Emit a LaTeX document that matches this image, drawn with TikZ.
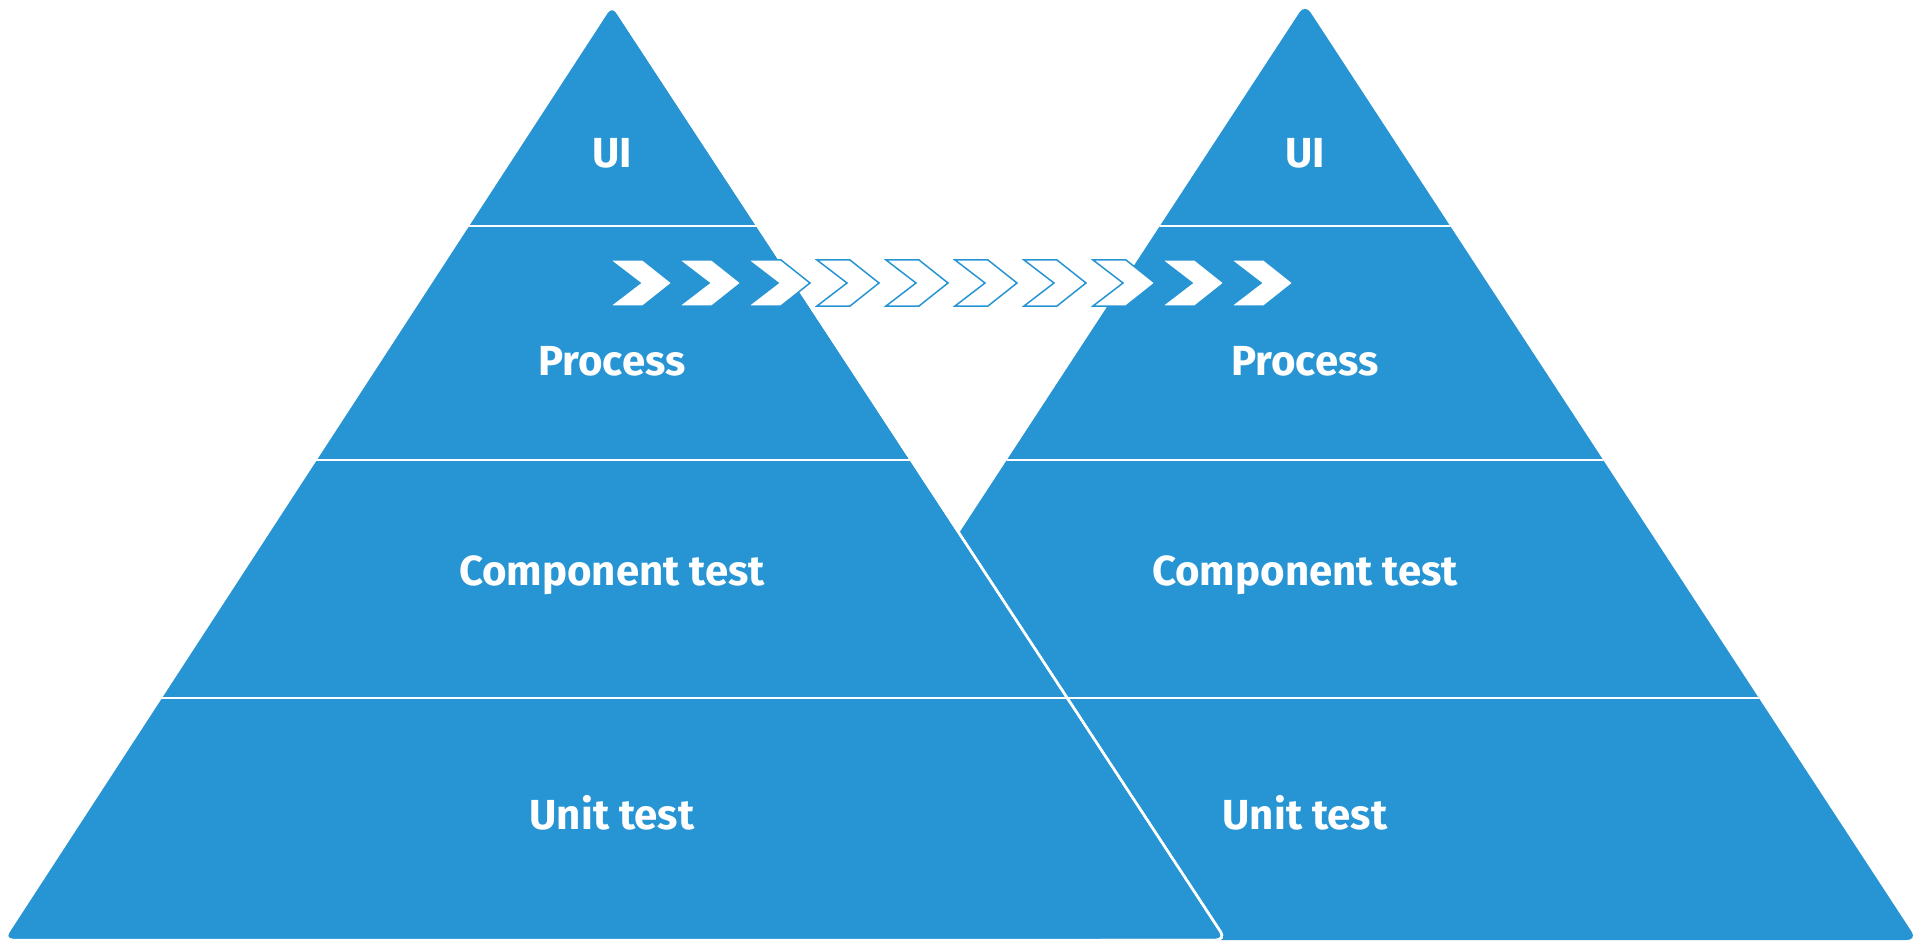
\documentclass[tikz,border=0pt]{standalone}
\usepackage{fontspec}
\setmainfont{Fira Sans}
\definecolor{pblue}{HTML}{2795D4}
\begin{document}
\begin{tikzpicture}[x=1pt,y=-1pt,
  pyr/.style={fill=pblue,draw=white,line width=2.5pt,rounded corners=10pt},
  sep/.style={draw=white,line width=2.5pt},
  lab/.style={text=white,font=\fontsize{42}{46}\selectfont\bfseries,inner sep=0pt},
  chev/.style={fill=white,draw=pblue,line width=1.5pt}]
\useasboundingbox (0,0) rectangle (1920,944);
% right pyramid
\begin{scope}
\path[clip,rounded corners=10pt] (1305,4) -- (1917,940) -- (693,940) -- cycle;
\fill[pblue] (600,0) rectangle (1920,944);
\foreach \yy in {226,460,698} \draw[sep] (600,\yy) -- (1920,\yy);
\end{scope}
% left pyramid
\path[pyr] (612,4) -- (1226,940) -- (3,940) -- cycle;
\begin{scope}
\path[clip] (612,4) -- (1226,940) -- (3,940) -- cycle;
\foreach \yy in {226,460,698} \draw[sep] (0,\yy) -- (1300,\yy);
\end{scope}
\draw[white,line width=2.5pt,rounded corners=10pt] (612,4) -- (1226,940) -- (1100,940);
% labels
\node[lab] (ui1) at (612,153) {UI};
\node[lab] (pr1) at (612,361) {Process};
\node[lab] (ct1) at (612,575) {Component test};
\node[lab] (ut1) at (612,813) {Unit test};
\node[lab] (ui2) at (1305,153) {UI};
\node[lab] (pr2) at (1305,361) {Process};
\node[lab] (ct2) at (1305,575) {Component test};
\node[lab] (ut2) at (1305,813) {Unit test};
% chevrons
\foreach \i in {0,...,9} {
  \pgfmathsetmacro{\xx}{610+69*\i}
  \draw[chev] (\xx,260) -- (\xx+33,260) -- (\xx+62,283) -- (\xx+33,306) -- (\xx,306) -- (\xx+30,283) -- cycle;
}
\end{tikzpicture}
\end{document}
